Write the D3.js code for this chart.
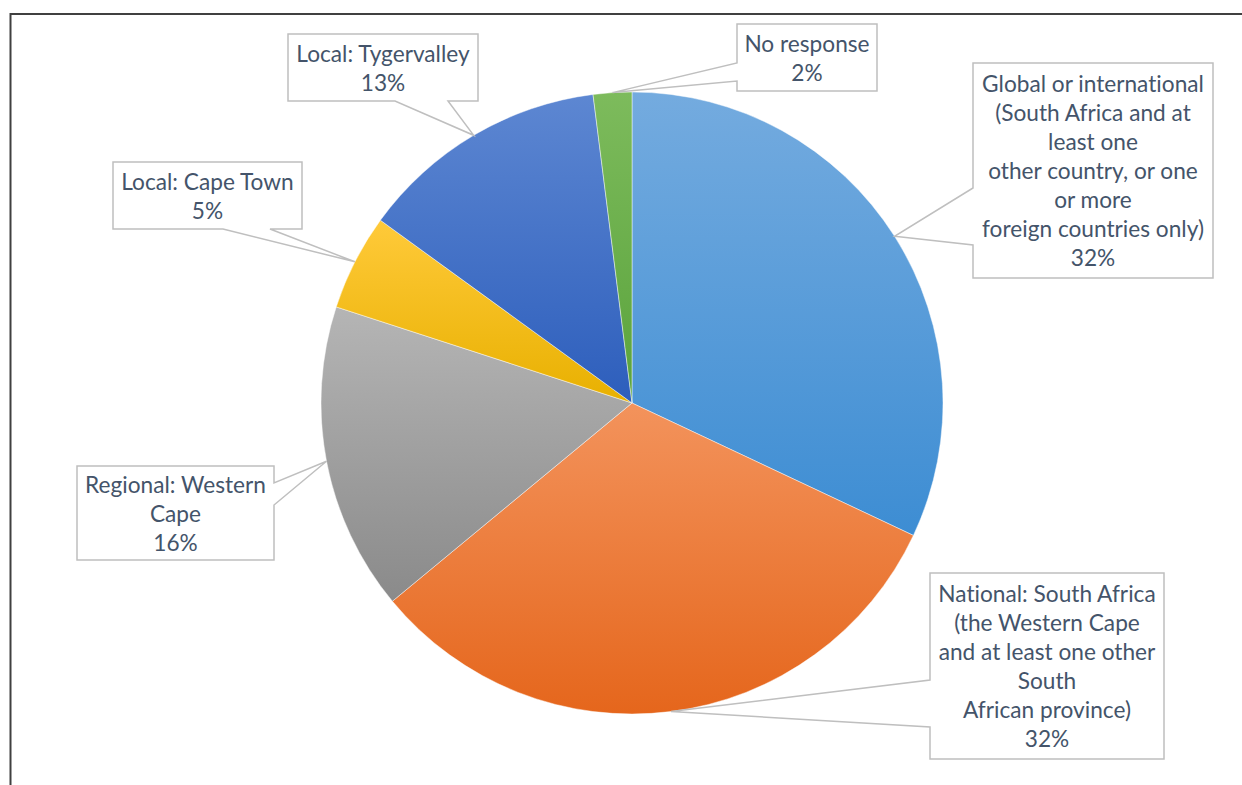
<!DOCTYPE html>
<html>
<head>
<meta charset="utf-8">
<script src="https://cdn.jsdelivr.net/npm/d3@7"></script>
<style>
  html, body { margin: 0; padding: 0; background: #fff; }
  svg { display: block; }
  text, tspan {
    font-variant-ligatures: none;
    font-feature-settings: "liga" 0, "clig" 0, "dlig" 0, "calt" 0;
  }
</style>
</head>
<body>
<svg id="chart" width="1242" height="785"></svg>
<script>
// Geographic reach of respondents' business (share of responses, %)
const categories = [
  "Global or international",
  "National: South Africa",
  "Regional: Western Cape",
  "Local: Cape Town",
  "Local: Tygervalley",
  "No response"
];
const values = [32, 32, 16, 5, 13, 2];

// Label text as wrapped in each callout (value line is appended)
const labelLines = [
  ["Global or international", "(South Africa and at", "least one", "other country, or one", "or more", "foreign countries only)"],
  ["National: South Africa", "(the Western Cape", "and at least one other", "South", "African province)"],
  ["Regional: Western", "Cape"],
  ["Local: Cape Town"],
  ["Local: Tygervalley"],
  ["No response"]
];

// Slice gradient colours: [top, bottom]
const palette = [
  ["#74abdf", "#3d8dd3"],
  ["#f3935c", "#e5661c"],
  ["#b5b5b5", "#8a8a8a"],
  ["#ffca3a", "#e8b000"],
  ["#5d87d2", "#2d5ebc"],
  ["#7dbb5c", "#5aa33c"]
];

// Callout boxes: x, y, w, h, the edge the pointer leaves from and the two base offsets along it
const callouts = [
  { x: 973, y: 63,  w: 240, h: 215, side: "left",   b: [125, 182] },
  { x: 930, y: 573, w: 234, h: 186, side: "left",   b: [107, 154] },
  { x: 77,  y: 466, w: 197, h: 94,  side: "right",  b: [17, 39] },
  { x: 113, y: 162, w: 189, h: 67,  side: "bottom", b: [110, 157] },
  { x: 288, y: 34,  w: 190, h: 67,  side: "bottom", b: [107, 160] },
  { x: 737, y: 24,  w: 140, h: 67,  side: "left",   b: [39, 57] }
];

const svg = d3.select("#chart");
const cx = 632, cy = 403, radius = 311;
const lineStep = 29;
const textColor = "#44546a";
const fontFamily = "Lato, 'Open Sans', sans-serif";
const textStyle = "font-variant-ligatures:none;font-feature-settings:'liga' 0,'clig' 0,'dlig' 0,'calt' 0;letter-spacing:0.01px";

// Outer frame (runs off the right and bottom edges)
svg.append("rect")
  .attr("x", 10.5).attr("y", 14)
  .attr("width", 1400).attr("height", 1000)
  .attr("fill", "none")
  .attr("stroke", "#404040")
  .attr("stroke-width", 2);

// Vertical gradients, one per slice
const defs = svg.append("defs");
palette.forEach((c, i) => {
  const g = defs.append("linearGradient")
    .attr("id", "grad" + i)
    .attr("x1", 0).attr("y1", 0).attr("x2", 0).attr("y2", 1);
  g.append("stop").attr("offset", "0%").attr("stop-color", c[0]);
  g.append("stop").attr("offset", "100%").attr("stop-color", c[1]);
});

const pie = d3.pie().sort(null).value(d => d)(values);
const arc = d3.arc().innerRadius(0).outerRadius(radius);

const pieG = svg.append("g").attr("transform", `translate(${cx},${cy})`);
pieG.selectAll("path")
  .data(pie)
  .join("path")
  .attr("d", arc)
  .attr("fill", (d, i) => `url(#grad${i})`)
  .attr("stroke", "#ffffff")
  .attr("stroke-opacity", 0.6)
  .attr("stroke-width", 0.75);

// Fit the label font so the widest line reads at the intended width
const probe = svg.append("text")
  .attr("font-family", fontFamily)
  .attr("font-size", 24)
  .attr("style", textStyle)
  .text("Global or international");
const probeW = probe.node().getComputedTextLength();
probe.remove();
const fontSize = 24 * 222 / probeW;

// Callouts with wedge pointers to the middle of each slice's outer edge
pie.forEach((d, i) => {
  const c = callouts[i];
  const mid = (d.startAngle + d.endAngle) / 2;
  const tip = [cx + radius * Math.sin(mid), cy - radius * Math.cos(mid)];
  const x0 = c.x, y0 = c.y, x1 = c.x + c.w, y1 = c.y + c.h;
  let pts;
  if (c.side === "left") {
    pts = [[x0, y0], [x1, y0], [x1, y1], [x0, y1],
           [x0, y0 + c.b[1]], tip, [x0, y0 + c.b[0]]];
  } else if (c.side === "right") {
    pts = [[x0, y0], [x1, y0], [x1, y0 + c.b[0]], tip,
           [x1, y0 + c.b[1]], [x1, y1], [x0, y1]];
  } else {
    pts = [[x0, y0], [x1, y0], [x1, y1], [x0 + c.b[1], y1],
           tip, [x0 + c.b[0], y1], [x0, y1]];
  }
  svg.append("path")
    .attr("d", d3.line()(pts) + "Z")
    .attr("fill", "#ffffff")
    .attr("stroke", "#bfbfbf")
    .attr("stroke-width", 1.5)
    .attr("stroke-linejoin", "miter");

  const lines = labelLines[i].concat([values[i] + "%"]);
  const n = lines.length;
  const firstBase = y0 + c.h / 2 - (n * lineStep) / 2 + 23;
  const t = svg.append("text")
    .attr("font-family", fontFamily)
    .attr("font-size", fontSize)
    .attr("fill", textColor)
    .attr("text-anchor", "middle")
    .attr("style", textStyle);
  lines.forEach((s, k) => {
    t.append("tspan")
      .attr("x", x0 + c.w / 2)
      .attr("y", firstBase + k * lineStep)
      .text(s);
  });
});
</script>
</body>
</html>
